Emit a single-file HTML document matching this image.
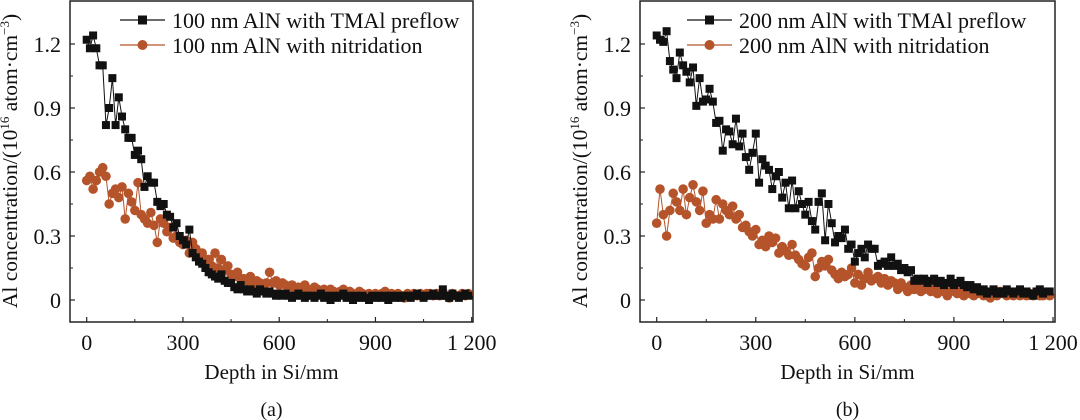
<!DOCTYPE html>
<html><head><meta charset="utf-8"><style>
html,body{margin:0;padding:0;background:#fff;width:1080px;height:420px;overflow:hidden}
svg text{font-family:"Liberation Serif",serif;fill:#111}
</style></head><body>
<svg id="c" width="1080" height="420" xmlns="http://www.w3.org/2000/svg"></svg>
<script>
const depthStep = 10;
const xTicks = [0,300,600,900,1200];
const xTickLabels = ["0","300","600","900","1 200"];
const yTicks = [0,0.3,0.6,0.9,1.2];
const yTickLabels = ["0","0.3","0.6","0.9","1.2"];
const aTmal = [1.22,1.18,1.24,1.18,1.1,1.1,0.82,0.9,1.04,0.82,0.95,0.86,0.8,0.76,0.76,0.68,0.7,0.66,0.53,0.58,0.55,0.55,0.46,0.44,0.45,0.4,0.39,0.34,0.36,0.3,0.28,0.26,0.33,0.22,0.2,0.18,0.17,0.15,0.13,0.12,0.11,0.1,0.12,0.09,0.08,0.08,0.06,0.05,0.07,0.05,0.04,0.05,0.04,0.03,0.05,0.04,0.03,0.04,0.03,0.02,0.03,0.02,0.03,0.02,0.01,0.02,0.03,0.02,0.01,0.02,0.02,0.01,0.02,0.03,0.01,0.02,0.0,0.02,0.01,0.02,0.03,0.01,0.02,0.0,0.02,0.01,0.02,0.01,0.0,0.02,0.01,0.02,0.01,0.02,0.0,0.02,0.01,0.02,0.01,0.02,0.02,0.01,0.02,0.03,0.02,0.01,0.02,0.02,0.03,0.02,0.02,0.05,0.02,0.01,0.03,0.02,0.01,0.02,0.03,0.02];
const aNitr = [0.56,0.58,0.52,0.56,0.6,0.62,0.58,0.45,0.5,0.52,0.48,0.53,0.38,0.5,0.46,0.42,0.55,0.4,0.38,0.36,0.41,0.35,0.27,0.38,0.36,0.32,0.34,0.29,0.3,0.27,0.26,0.28,0.22,0.27,0.24,0.21,0.22,0.18,0.19,0.16,0.22,0.15,0.19,0.14,0.16,0.12,0.11,0.13,0.1,0.1,0.09,0.11,0.08,0.09,0.08,0.07,0.08,0.13,0.08,0.09,0.07,0.08,0.07,0.06,0.07,0.05,0.06,0.05,0.07,0.05,0.04,0.06,0.05,0.04,0.05,0.03,0.05,0.04,0.03,0.04,0.05,0.03,0.04,0.03,0.02,0.04,0.03,0.02,0.03,0.02,0.03,0.02,0.03,0.04,0.02,0.03,0.02,0.03,0.02,0.01,0.03,0.02,0.03,0.02,0.03,0.02,0.03,0.03,0.02,0.03,0.02,0.04,0.02,0.01,0.03,0.02,0.02,0.03,0.02,0.03];
const bTmal = [1.24,1.22,1.21,1.26,1.12,1.08,1.04,1.16,1.1,1.07,1.02,1.09,0.91,1.04,0.93,0.94,0.99,0.93,0.83,0.84,0.7,0.8,0.79,0.73,0.85,0.72,0.78,0.67,0.61,0.69,0.78,0.55,0.66,0.63,0.61,0.52,0.58,0.6,0.48,0.55,0.43,0.56,0.43,0.51,0.45,0.4,0.46,0.37,0.33,0.46,0.5,0.28,0.45,0.36,0.27,0.3,0.29,0.33,0.24,0.26,0.18,0.22,0.24,0.2,0.26,0.24,0.24,0.16,0.17,0.18,0.16,0.2,0.16,0.17,0.14,0.15,0.13,0.14,0.09,0.1,0.09,0.1,0.08,0.09,0.1,0.08,0.09,0.07,0.08,0.1,0.07,0.08,0.09,0.07,0.06,0.07,0.05,0.06,0.04,0.05,0.03,0.04,0.05,0.03,0.04,0.03,0.05,0.04,0.03,0.04,0.05,0.03,0.04,0.03,0.02,0.04,0.05,0.03,0.04,0.04];
const bNitr = [0.36,0.52,0.4,0.3,0.42,0.5,0.46,0.42,0.52,0.4,0.48,0.54,0.46,0.42,0.51,0.36,0.4,0.38,0.47,0.38,0.45,0.42,0.4,0.44,0.38,0.4,0.34,0.35,0.32,0.3,0.33,0.26,0.28,0.25,0.3,0.27,0.29,0.22,0.25,0.23,0.21,0.26,0.21,0.19,0.17,0.16,0.2,0.22,0.11,0.15,0.18,0.16,0.19,0.14,0.12,0.1,0.13,0.11,0.12,0.15,0.08,0.12,0.07,0.1,0.13,0.09,0.1,0.11,0.08,0.1,0.07,0.09,0.08,0.05,0.08,0.06,0.04,0.07,0.05,0.06,0.04,0.05,0.06,0.04,0.05,0.03,0.05,0.04,0.02,0.04,0.05,0.03,0.04,0.02,0.04,0.03,0.02,0.03,0.04,0.02,0.03,0.01,0.03,0.02,0.04,0.03,0.02,0.03,0.02,0.03,0.02,0.03,0.02,0.03,0.02,0.03,0.02,0.02,0.03,0.02];

const NS="http://www.w3.org/2000/svg";
const svg=document.getElementById('c');
function mk(tag,attrs,parent){const e=document.createElementNS(NS,tag);for(const k in attrs)e.setAttribute(k,attrs[k]);(parent||svg).appendChild(e);return e;}
const BLACK="#111", ORANGE="#b5542a";

function panel(cfg){
  const g=mk('g',{});
  
  
  const x0=cfg.x0, x1=cfg.x1, fl=cfg.fl, fr=cfg.fr, top=1, bot=322;
  const X=v=>x0+(x1-x0)*v/1200;
  const Y=v=>300-v*(256/1.2);
  const fr_=mk('rect',{x:fl,y:top,width:fr-fl,height:bot-top,fill:'none',stroke:'#222','stroke-width':1.5},g);
  
  
  xTicks.forEach((t,i)=>{
    mk('line',{x1:X(t),x2:X(t),y1:bot,y2:bot-5,stroke:'#222','stroke-width':1.2},g);
    const tl=mk('text',{x:X(t),y:bot+28,'text-anchor':'middle','font-size':22},g);
    tl.textContent=xTickLabels[i];
    
    
    if(i<xTicks.length-1) mk('line',{x1:X(t+150),x2:X(t+150),y1:bot,y2:bot-3,stroke:'#222','stroke-width':1},g);
  });
  yTicks.forEach((t,i)=>{
    mk('line',{x1:fl,x2:fl+5,y1:Y(t),y2:Y(t),stroke:'#222','stroke-width':1.2},g);
    const tl=mk('text',{x:fl-9,y:Y(t)+8,'text-anchor':'end','font-size':22},g);
    tl.textContent=yTickLabels[i];
    
    
    if(i<yTicks.length-1) mk('line',{x1:fl,x2:fl+3,y1:Y(t+0.15),y2:Y(t+0.15),stroke:'#222','stroke-width':1},g);
  });
  const xt=mk('text',{x:(fl+fr)/2,y:379,'text-anchor':'middle','font-size':21},g);
  xt.textContent='Depth in Si/mm';
  
  
  const cap=mk('text',{x:(fl+fr)/2,y:416,'text-anchor':'middle','font-size':20},g);
  cap.textContent=cfg.cap;
  
  
  const yt=mk('text',{transform:`translate(${fl-53},${161}) rotate(-90)`,'text-anchor':'middle','font-size':21.5},g);
  yt.innerHTML='Al concentration/(10<tspan dy="-8" font-size="13">16</tspan><tspan dy="8"> atom·cm</tspan><tspan dy="-8" font-size="13">−3</tspan><tspan dy="8">)</tspan>';
  
  
  const clip=mk('clipPath',{id:cfg.name+'-clip'},g);
  mk('rect',{x:fl,y:top,width:fr-fl,height:bot-top},clip);
  const pg=mk('g',{'clip-path':`url(#${cfg.name}-clip)`},g);
  function series(vals,color,shape,nm){
    const sg=mk('g',{},pg);
    
    
    const pts=vals.map((v,i)=>X(i*depthStep).toFixed(1)+','+Y(v).toFixed(1)).join(' ');
    mk('polyline',{points:pts,fill:'none',stroke:color,'stroke-width':1},sg);
    vals.forEach((v,i)=>{
      const cx=X(i*depthStep), cy=Y(v);
      let m;
      if(shape==='sq') m=mk('rect',{x:cx-4,y:cy-4,width:8,height:8,fill:color},sg);
      else m=mk('circle',{cx:cx,cy:cy,r:4.8,fill:color},sg);
      
      
    });
  }
  series(cfg.nitr,ORANGE,'c','series-nitridation');
  series(cfg.tmal,BLACK,'sq','series-tmal-preflow');
  const lg=mk('g',{},g);
  
  
  const lx=cfg.lx;
  [[BLACK,'sq',cfg.l1,20],[ORANGE,'c',cfg.l2,45]].forEach(([c,s,t,y])=>{
    const e=mk('g',{},lg);
    
    
    mk('line',{x1:lx,x2:lx+45,y1:y,y2:y,stroke:c,'stroke-width':1.2},e);
    if(s==='sq') mk('rect',{x:lx+18,y:y-4.5,width:9,height:9,fill:c},e);
    else mk('circle',{cx:lx+22.5,cy:y,r:5,fill:c},e);
    const tx=mk('text',{x:lx+52,y:y+8,'font-size':22},e);
    tx.textContent=t;
  });
}
panel({name:'panel-a',x0:86.7,x1:471.7,fl:70,fr:473,cap:'(a)',tmal:aTmal,nitr:aNitr,lx:120,l1:'100 nm AlN with TMAl preflow',l2:'100 nm AlN with nitridation'});
panel({name:'panel-b',x0:656.7,x1:1053,fl:640,fr:1055,cap:'(b)',tmal:bTmal,nitr:bNitr,lx:687,l1:'200 nm AlN with TMAl preflow',l2:'200 nm AlN with nitridation'});
</script>
</body></html>
